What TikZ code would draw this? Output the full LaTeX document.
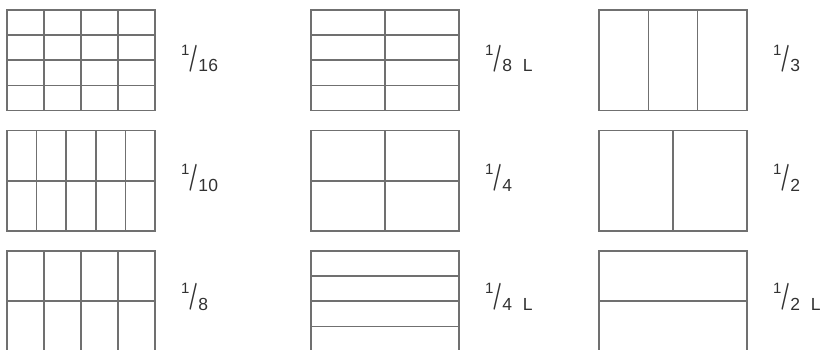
\documentclass[tikz,border=0pt]{standalone}
\usepackage{fontspec}
\setmainfont{Liberation Sans}
\newfontfamily\labelfont{Liberation Sans}[LetterSpace=3]
\usepackage{graphicx}
\usepackage{tikz}
\usetikzlibrary{positioning}
\definecolor{linegray}{RGB}{112,112,112}
\definecolor{textgray}{RGB}{50,50,50}
\newcommand{\share}[1]{\raisebox{16.5pt}{\fontsize{15}{15}\selectfont 1}\kern-1pt\raisebox{6.75pt}{\scalebox{0.62}[1]{\fontsize{27}{27}\sffamily\bfseries /}}\kern0.5pt#1}

\begin{document}
\begin{tikzpicture}[node distance=120.5pt,
	panel/.style={draw=linegray, line width=1.6pt, minimum width=148pt, minimum height=100.5pt, inner sep=0pt, outer sep=0pt},
	cut/.style={draw=linegray, line width=1.6pt},
	sizelabel/.style={anchor=base west, inner sep=0pt, text=textgray, font=\labelfont\fontsize{17.5}{17.5}\selectfont}]
	\path[use as bounding box, clip] (0,0) rectangle (823pt,-349pt);
	
	% first column
	\node[panel] (p16) at (81pt,-60.25pt) {};
	\node[panel, below of=p16] (p10) {};
	\node[panel, below of=p10] (p8) {};
	\node[sizelabel] (l16) at ([xshift=26pt, yshift=-11.5pt] p16.east) {\share{16}};
	\node[sizelabel] (l10) at ([xshift=26pt, yshift=-10.5pt] p10.east) {\share{10}};
	\node[sizelabel] (l8) at ([xshift=26pt, yshift=-9pt] p8.east) {\share{8}};
	\foreach \k in {1,2,3} {
		\draw[cut] ([xshift=\k*37pt] p16.north west) -- ([xshift=\k*37pt] p16.south west);
		\draw[cut] ([yshift=-\k*25.125pt] p16.north west) -- ([yshift=-\k*25.125pt] p16.north east);
		\draw[cut] ([xshift=\k*37pt] p8.north west) -- ([xshift=\k*37pt] p8.south west);
	}
	\foreach \k in {1,2,3,4}
		\draw[cut] ([xshift=\k*29.6pt] p10.north west) -- ([xshift=\k*29.6pt] p10.south west);
	\draw[cut] (p10.west) -- (p10.east);
	\draw[cut] (p8.west) -- (p8.east);
	
	% second column
	\node[panel] (p8l) at (385pt,-60.25pt) {};
	\node[panel, below of=p8l] (p4) {};
	\node[panel, below of=p4] (p4l) {};
	\node[sizelabel] (l8l) at ([xshift=26pt, yshift=-11.5pt] p8l.east) {\share{8}\hspace{11pt}L};
	\node[sizelabel] (l4) at ([xshift=26pt, yshift=-10.5pt] p4.east) {\share{4}};
	\node[sizelabel] (l4l) at ([xshift=26pt, yshift=-9pt] p4l.east) {\share{4}\hspace{11pt}L};
	\draw[cut] (p8l.north) -- (p8l.south);
	\draw[cut] (p4.north) -- (p4.south);
	\draw[cut] (p4.west) -- (p4.east);
	\foreach \k in {1,2,3} {
		\draw[cut] ([yshift=-\k*25.125pt] p8l.north west) -- ([yshift=-\k*25.125pt] p8l.north east);
		\draw[cut] ([yshift=-\k*25.125pt] p4l.north west) -- ([yshift=-\k*25.125pt] p4l.north east);
	}
	
	% third column
	\node[panel] (p3) at (673pt,-60.25pt) {};
	\node[panel, below of=p3] (p2) {};
	\node[panel, below of=p2] (p2l) {};
	\node[sizelabel] (l3) at ([xshift=26pt, yshift=-11.5pt] p3.east) {\share{3}};
	\node[sizelabel] (l2) at ([xshift=26pt, yshift=-10.5pt] p2.east) {\share{2}};
	\node[sizelabel] (l2l) at ([xshift=26pt, yshift=-9pt] p2l.east) {\share{2}\hspace{11pt}L};
	\foreach \k in {1,2}
		\draw[cut] ([xshift=\k*49.33pt] p3.north west) -- ([xshift=\k*49.33pt] p3.south west);
	\draw[cut] (p2.north) -- (p2.south);
	\draw[cut] (p2l.west) -- (p2l.east);
\end{tikzpicture}
\end{document}
